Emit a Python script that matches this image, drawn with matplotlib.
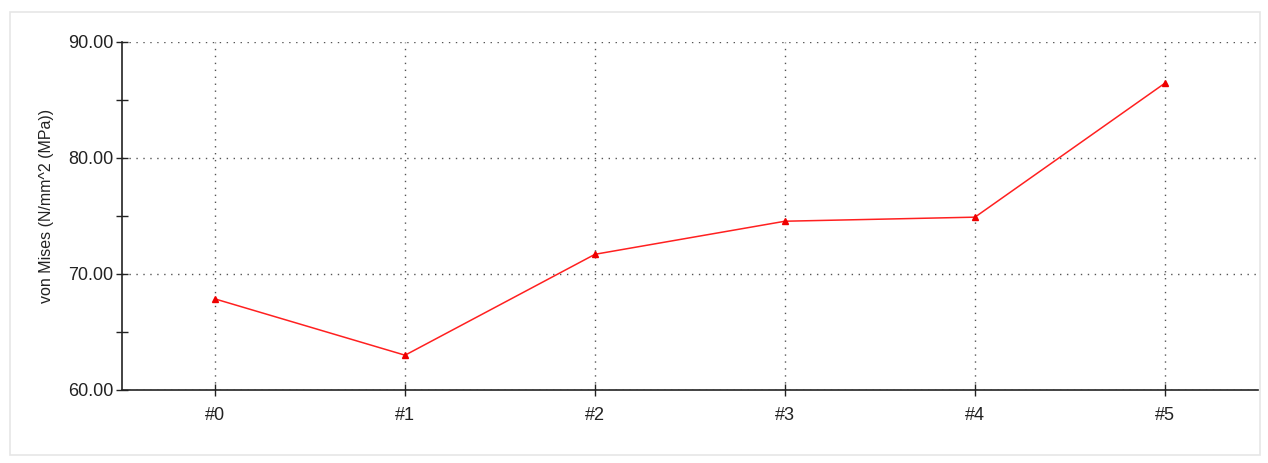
import matplotlib
matplotlib.use("Agg")
import matplotlib.pyplot as plt
from matplotlib.patches import Rectangle
from matplotlib.ticker import MultipleLocator

categories = ["#0", "#1", "#2", "#3", "#4", "#5"]
values = [67.85, 63.0, 71.7, 74.55, 74.9, 86.45]
ytick_values = [60, 70, 80, 90]

plt.rcParams['font.family'] = ['Liberation Sans', 'DejaVu Sans']

fig = plt.figure(figsize=(12.68, 4.63), dpi=100)
fig.patches.append(Rectangle((10/1268, 1 - 455/463), 1250/1268, 443/463,
                             transform=fig.transFigure, fill=False,
                             edgecolor='#e6e6e6', linewidth=1.2))
ax = fig.add_axes([122/1268, 1 - 390/463, (1258-122)/1268, (390-42)/463])

x = list(range(len(categories)))
ax.plot(x, values, color='#ff2020', linewidth=1.1, marker='^', markersize=5,
        markerfacecolor='#ee0000', markeredgecolor='#ee0000', zorder=3)

ax.set_xlim(-0.49, 5.49)
ax.set_ylim(60, 90)
ax.set_xticks(x)
ax.set_xticklabels(categories)
ax.set_yticks(ytick_values)
ax.set_yticklabels([f"{v:.2f}" for v in ytick_values])
ax.yaxis.set_minor_locator(MultipleLocator(5))

ax.grid(True, which='major', linestyle=(0, (1, 4)), color='#555555', linewidth=1.0)
for s in ['top', 'right']:
    ax.spines[s].set_visible(False)
for s in ['left', 'bottom']:
    ax.spines[s].set_color('#222222')
    ax.spines[s].set_linewidth(1.2)

ax.tick_params(axis='both', which='major', direction='inout', length=8, width=1,
               labelsize=13, colors='#222222')
ax.tick_params(axis='y', which='minor', direction='inout', length=8, width=1, colors='#222222')
ax.tick_params(axis='x', pad=8)
ax.tick_params(axis='y', pad=2)

ax.set_ylabel("von Mises (N/mm^2 (MPa))", fontsize=11.5, color='#222222')
ax.yaxis.set_label_coords(-68/1136, 0.53)

fig.savefig("out.png", dpi=100)
